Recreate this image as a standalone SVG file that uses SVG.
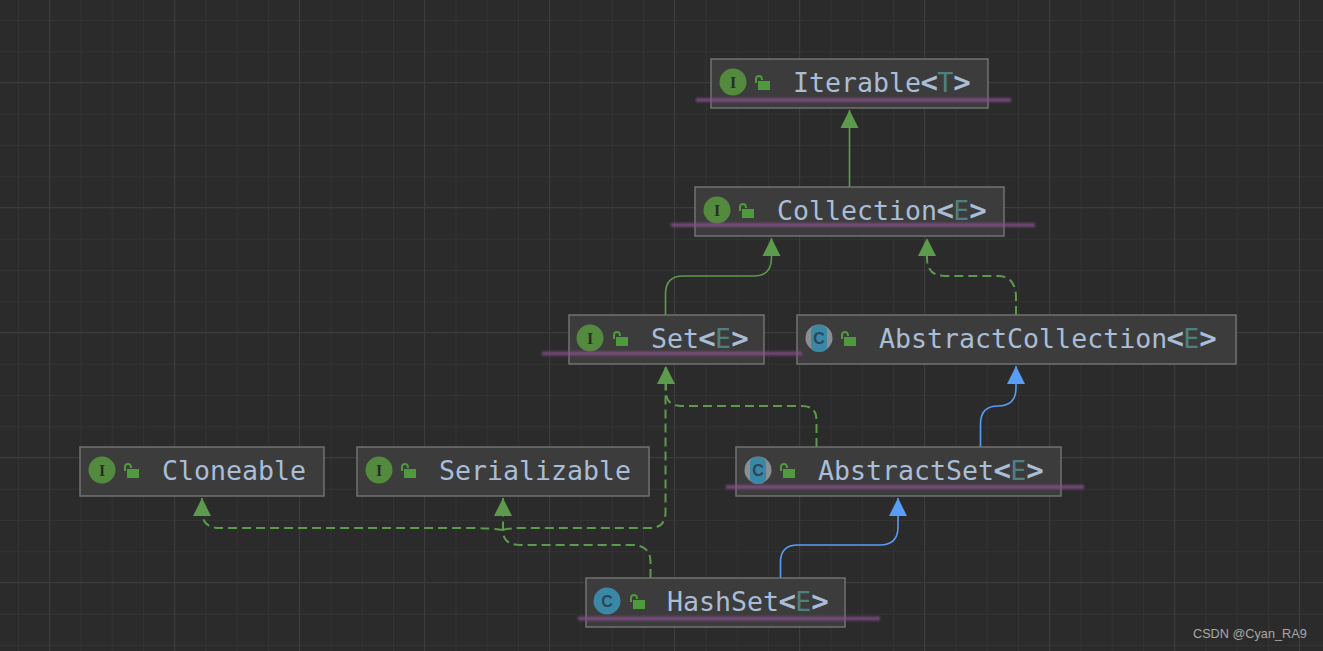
<svg xmlns="http://www.w3.org/2000/svg" width="1323" height="651" viewBox="0 0 1323 651">
<defs>
<pattern id="minor" width="31.25" height="31.25" patternUnits="userSpaceOnUse" x="18" y="20">
<path d="M0.5 0V31.25M0 0.5H31.25" fill="none" stroke="#333333" stroke-width="1"/>
</pattern>
<pattern id="major" width="125" height="125" patternUnits="userSpaceOnUse" x="49" y="82">
<path d="M0.5 0V125M0 0.5H125" fill="none" stroke="#3c3c3c" stroke-width="1"/>
</pattern>
<filter id="blur" x="-5%" y="-150%" width="110%" height="400%"><feGaussianBlur stdDeviation="1.1"/></filter>
<marker id="g" markerUnits="userSpaceOnUse" markerWidth="20" markerHeight="20" refX="18" refY="9.5" orient="auto"><path d="M0 0.5L18 9.5L0 18.5Z" fill="#5c9a4c"/></marker>
<marker id="b" markerUnits="userSpaceOnUse" markerWidth="20" markerHeight="20" refX="18" refY="9.5" orient="auto"><path d="M0 0.5L18 9.5L0 18.5Z" fill="#589df6"/></marker>
</defs>
<style>
.box{fill:#3c3c3c;stroke:#717171;stroke-width:1.5}
.t{font-family:"DejaVu Sans Mono",monospace;font-size:26.6px;fill:#a9bdd6}
.e{fill:#4f8080}
.a{font-weight:bold;font-size:29px}
.u{fill:#8a4f90;fill-opacity:.75;filter:url(#blur)}
.ci{fill:#548a3e}
.il{font-family:"Liberation Serif",serif;font-weight:bold;font-size:16px;fill:#2b2b2b;text-anchor:middle}
.cc{fill:#3b87a6}
.cl{font-family:"Liberation Sans",sans-serif;font-weight:bold;font-size:16px;fill:#2a4757;text-anchor:middle}
.gr{fill:#8a8f93}
.lk{fill:#4f9a3c}
.sh{fill:none;stroke:#4f9a3c;stroke-width:2}
.sg{fill:none;stroke:#5c9a4c;stroke-width:1.6}
.dg{fill:none;stroke:#5c9a4c;stroke-width:2;stroke-dasharray:9 5}
.sb{fill:none;stroke:#589df6;stroke-width:1.6}
</style>
<rect width="1323" height="651" fill="#2b2b2b"/>
<rect width="1323" height="651" fill="url(#minor)"/>
<rect width="1323" height="651" fill="url(#major)"/>
<g id="connectors">
<path class="sg" d="M849.500 187V110" marker-end="url(#g)"/>
<path class="sg" d="M665.500 315V294Q665.500 276 683 276H754Q771.500 276 771.500 258V238" marker-end="url(#g)"/>
<path class="dg" d="M1016 315V298Q1016 276 998 276H945Q927 276 927 258V238" marker-end="url(#g)"/>
<path class="dg" d="M816.500 447V420Q816.500 406 802 406H682Q666 406 666 392V366" marker-end="url(#g)"/>
<path class="sb" d="M980.500 447V424Q980.500 406 998 406H998Q1016 406 1016 388V366" marker-end="url(#b)"/>
<path class="sb" d="M780.500 578V562Q780.500 545 798 545H880Q898 545 898 527V498" marker-end="url(#b)"/>
<path class="dg" d="M503 530Q510 528 520 528H650Q665.500 528 665.500 512V366"/>
<path class="dg" d="M503 530Q490 528 470 528H220Q202 528 202 512V498" marker-end="url(#g)"/>
<path class="dg" d="M650.500 578V562Q650.500 545 632 545H520Q504 545 503 532V498" marker-end="url(#g)"/>
</g>
<g id="iterable">
<rect class="box" x="711" y="59" width="277" height="49"/>
<circle class="ci" cx="733" cy="82" r="13.500"/><text class="il" x="733" y="87.500">I</text>
<path class="sh" d="M756 83V79Q756 76 759 76Q762 76 762 80"/><rect class="lk" x="758" y="81" width="12" height="9"/>
<text class="t" x="793" y="92">Iterable<tspan class="a" dx="-.7">&lt;</tspan><tspan class="e" dx="-.7">T</tspan><tspan class="a">&gt;</tspan></text>
<rect class="u" x="696" y="98" width="315" height="4"/>
</g>
<g id="collection">
<rect class="box" x="695" y="187" width="309" height="49"/>
<circle class="ci" cx="717" cy="210" r="13.500"/><text class="il" x="717" y="215.500">I</text>
<path class="sh" d="M740 211V207Q740 204 743 204Q746 204 746 208"/><rect class="lk" x="742" y="209" width="12" height="9"/>
<text class="t" x="777" y="220">Collection<tspan class="a" dx="-.7">&lt;</tspan><tspan class="e" dx="-.7">E</tspan><tspan class="a">&gt;</tspan></text>
<rect class="u" x="671" y="223" width="364" height="4"/>
</g>
<g id="abstractcollection">
<rect class="box" x="797" y="315" width="439" height="49"/>
<circle class="gr" cx="819" cy="338" r="13.500"/><rect class="cc" x="811" y="325" width="16" height="27" rx="6"/><text class="cl" x="819" y="344">C</text>
<path class="sh" d="M842 339V335Q842 332 845 332Q848 332 848 336"/><rect class="lk" x="844" y="337" width="12" height="9"/>
<text class="t" x="879" y="348">AbstractCollection<tspan class="a" dx="-.7">&lt;</tspan><tspan class="e" dx="-.7">E</tspan><tspan class="a">&gt;</tspan></text>
</g>
<g id="set">
<rect class="box" x="569" y="315" width="195" height="49"/>
<circle class="ci" cx="590" cy="338" r="13.500"/><text class="il" x="590" y="343.500">I</text>
<path class="sh" d="M614 339V335Q614 332 617 332Q620 332 620 336"/><rect class="lk" x="616" y="337" width="12" height="9"/>
<text class="t" x="651" y="348">Set<tspan class="a" dx="-.7">&lt;</tspan><tspan class="e" dx="-.7">E</tspan><tspan class="a">&gt;</tspan></text>
<rect class="u" x="542" y="351.500" width="260" height="4"/>
</g>
<g id="cloneable">
<rect class="box" x="80" y="447" width="244" height="49"/>
<circle class="ci" cx="102" cy="470" r="13.500"/><text class="il" x="102" y="475.500">I</text>
<path class="sh" d="M125 471V467Q125 464 128 464Q131 464 131 468"/><rect class="lk" x="127" y="469" width="12" height="9"/>
<text class="t" x="162" y="480">Cloneable</text>
</g>
<g id="serializable">
<rect class="box" x="357" y="447" width="292" height="49"/>
<circle class="ci" cx="379" cy="470" r="13.500"/><text class="il" x="379" y="475.500">I</text>
<path class="sh" d="M402 471V467Q402 464 405 464Q408 464 408 468"/><rect class="lk" x="404" y="469" width="12" height="9"/>
<text class="t" x="439" y="480">Serializable</text>
</g>
<g id="abstractset">
<rect class="box" x="736" y="447" width="325" height="49"/>
<circle class="gr" cx="758" cy="470" r="13.500"/><rect class="cc" x="750" y="457" width="16" height="27" rx="6"/><text class="cl" x="758" y="476">C</text>
<path class="sh" d="M781 471V467Q781 464 784 464Q787 464 787 468"/><rect class="lk" x="783" y="469" width="12" height="9"/>
<text class="t" x="818" y="480">AbstractSet<tspan class="a" dx="-.7">&lt;</tspan><tspan class="e" dx="-.7">E</tspan><tspan class="a">&gt;</tspan></text>
<rect class="u" x="726" y="485" width="358" height="4"/>
</g>
<g id="hashset">
<rect class="box" x="586" y="578" width="259" height="49"/>
<circle class="cc" cx="607" cy="601" r="13.500"/><text class="cl" x="607" y="607">C</text>
<path class="sh" d="M631 602V598Q631 595 634 595Q637 595 637 599"/><rect class="lk" x="633" y="600" width="12" height="9"/>
<text class="t" x="667" y="611">HashSet<tspan class="a" dx="-.7">&lt;</tspan><tspan class="e" dx="-.7">E</tspan><tspan class="a">&gt;</tspan></text>
<rect class="u" x="578" y="616.500" width="302" height="4"/>
</g>
<text x="1193" y="638" font-family="Liberation Sans, sans-serif" font-size="12.700" fill="#a8a8a8">CSDN @Cyan_RA9</text>
</svg>
